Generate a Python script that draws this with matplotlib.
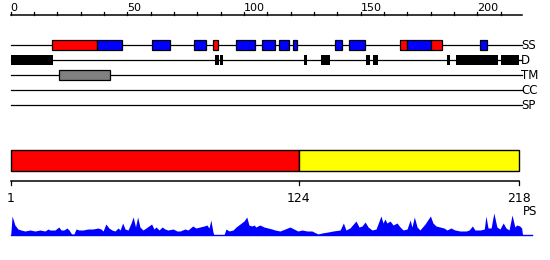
import matplotlib

matplotlib.use("Agg")
import matplotlib.pyplot as plt
from matplotlib.patches import Rectangle

SEQ_LEN = 218
TOP_TICK_LABELS = [0, 50, 100, 150, 200]
TRACK_LABELS = ["SS", "D", "TM", "CC", "SP"]

# secondary structure segments: (start, end, kind)  kind: "H" red, "E" blue
ss_start = [17.8, 36.8, 60.6, 78.6, 86.8, 96.6, 107.8, 115.0, 121.0, 139.0, 145.0, 167.0, 169.9, 180.3, 201.3]
ss_end = [36.8, 47.8, 68.1, 83.8, 88.9, 104.9, 113.1, 119.1, 122.9, 142.0, 152.0, 169.9, 180.3, 185.0, 204.1]
ss_kind = ["H", "E", "E", "E", "H", "E", "E", "E", "E", "E", "E", "H", "E", "H", "E"]

# disorder segments
dis_start = [0.0, 87.5, 89.6, 125.7, 133.0, 152.5, 155.5, 187.0, 190.7, 210.0]
dis_end = [18.0, 89.1, 90.8, 127.2, 137.0, 154.0, 157.3, 188.1, 209.0, 217.8]

# transmembrane segments
tm_start = [20.8]
tm_end = [42.7]

# domain bar
dom_start = [1, 124]
dom_end = [124, 218]
dom_color = ["#ff0000", "#ffff00"]
bottom_ticks = [1, 124, 218]

# PS profile
ps_pos = [0.0, 0.6, 1.8, 3.1, 4.4, 6.1, 8.3, 10.4, 12.6, 14.7, 16.0, 16.8, 19.0, 20.6, 21.6,
          22.8, 24.1, 25.0, 26.1, 27.1, 28.0, 29.3, 31.0, 33.1, 35.3, 37.4, 38.7, 39.6, 40.8,
          42.1, 43.4, 44.7, 46.0, 46.9, 48.0, 49.0, 50.3, 51.6, 52.5, 53.5, 54.4, 55.4, 56.7,
          58.0, 60.4, 61.4, 62.3, 63.6, 64.9, 66.1, 67.4, 69.6, 71.3, 72.6, 74.7, 76.0, 78.0,
          79.4, 81.1, 82.9, 84.1, 85.0, 85.8, 86.7, 87.1, 91.4, 92.3, 93.6, 95.3, 96.6, 98.3,
          100.0, 101.2, 102.1, 103.4, 104.3, 105.1, 106.8, 108.6, 110.3, 112.0, 113.3, 115.4,
          117.6, 119.7, 121.4, 123.1, 124.9, 127.0, 129.1, 131.7, 133.4, 136.0, 138.2, 141.2,
          142.6, 143.7, 145.4, 148.0, 149.3, 150.6, 151.9, 153.2, 154.9, 156.6, 158.7, 159.6,
          160.4, 161.3, 162.6, 163.9, 165.6, 166.9, 168.2, 169.9, 171.2, 172.0, 173.0, 174.2,
          175.4, 177.6, 179.9, 181.0, 182.3, 184.0, 185.7, 187.0, 188.7, 190.4, 192.6, 195.2,
          196.5, 197.9, 199.0, 201.3, 203.0, 203.7, 204.6, 205.9, 207.1, 208.4, 209.7, 211.1,
          212.3, 213.6, 214.9, 216.1, 216.9, 218.2, 219.0, 219.4]
ps_val = [0, 19, 10, 6, 5, 4, 5, 4, 5, 4, 6, 5, 5, 8, 5,
          5, 7, 5, 1, 1, 6, 5, 5, 6, 6, 7, 6, 4, 11,
          7, 5, 4, 7, 5, 12, 6, 5, 12, 18, 8, 18, 8, 5,
          7, 11, 6, 8, 5, 8, 6, 5, 6, 4, 4, 6, 5, 9,
          7, 8, 9, 10, 7, 15, 3, 0, 0, 6, 4, 5, 8, 11,
          14, 18, 10, 9, 10, 8, 10, 8, 7, 6, 5, 4,
          6, 8, 6, 4, 5, 4, 4, 1, 2, 3, 4, 5,
          12, 5, 7, 14, 8, 9, 13, 8, 5, 6, 19, 12,
          16, 12, 14, 10, 12, 8, 5, 6, 15, 8, 18, 8,
          5, 11, 19, 12, 9, 8, 7, 5, 7, 5, 4, 4,
          5, 9, 5, 5, 6, 19, 7, 7, 22, 8, 6, 12,
          7, 5, 20, 8, 10, 9, 7, 0]

PX_PER_RES = 2.333
X0_PX = 10.7
LINE_END = 219.0

ROW_Y = {"SS": 45, "D": 60, "TM": 75, "CC": 90, "SP": 105}
BOX_H = 10.5
SS_COLORS = {"H": "#ff0000", "E": "#0000ff"}


def add_box(ax, start, end, yc, color, edge="black", height=BOX_H):
    ax.add_patch(Rectangle((start, yc - height / 2), end - start, height,
                           facecolor=color, edgecolor=edge, linewidth=0.9, zorder=3))


def main():
    fig = plt.figure(figsize=(5.5, 2.6), dpi=100)
    ax = fig.add_axes([0, 0, 1, 1])
    ax.set_xlim(-X0_PX / PX_PER_RES, (550 - X0_PX) / PX_PER_RES)
    ax.set_ylim(260, 0)
    ax.axis("off")

    # top ruler
    ax.plot([0, LINE_END], [15, 15], color="black", lw=1.1)
    for t in range(0, SEQ_LEN + 1, 10):
        ax.plot([t, t], [11.8, 15], color="black", lw=0.9)
    for t in TOP_TICK_LABELS:
        ax.text(t, 11.0, str(t), ha="left", va="baseline", fontsize=8, color="black")

    # track lines + labels
    for name in TRACK_LABELS:
        y = ROW_Y[name]
        ax.plot([0, LINE_END], [y, y], color="black", lw=0.9, zorder=1)
        ax.text(LINE_END - 0.3, y + 0.5, name, ha="left", va="center", fontsize=8.5)

    for s, e, k in zip(ss_start, ss_end, ss_kind):
        add_box(ax, s, e, ROW_Y["SS"], SS_COLORS[k])
    for s, e in zip(dis_start, dis_end):
        add_box(ax, s, e, ROW_Y["D"], "black", edge="none")
    for s, e in zip(tm_start, tm_end):
        add_box(ax, s, e, ROW_Y["TM"], "#808080")

    # domain bar (residue positions shifted so that 1 sits at the ruler origin)
    def res_x(r):
        return (r - 1) * SEQ_LEN / (SEQ_LEN - 1)

    for s, e, c in zip(dom_start, dom_end, dom_color):
        ax.add_patch(Rectangle((res_x(s), 150), res_x(e) - res_x(s), 20.5,
                               facecolor=c, edgecolor="black", linewidth=1.0))

    # bottom ruler
    ax.plot([res_x(1), res_x(SEQ_LEN)], [180.7, 180.7], color="black", lw=1.1)
    for t in bottom_ticks:
        ax.plot([res_x(t), res_x(t)], [180.7, 185], color="black", lw=0.9)
        ax.text(res_x(t), 202, str(t), ha="center", va="baseline", fontsize=9)
    ax.text(LINE_END + 0.6, 215, "PS", ha="left", va="baseline", fontsize=8.5)

    # PS profile
    base = 235
    ax.fill_between(ps_pos, [base] * len(ps_val), [base - v for v in ps_val],
                    color="#0000ff", linewidth=0)
    ax.plot([0, (532 - X0_PX) / PX_PER_RES], [base, base], color="#0000ff", lw=1.0)

    fig.savefig("out.png", dpi=100)
    plt.close(fig)


if __name__ == "__main__":
    main()
